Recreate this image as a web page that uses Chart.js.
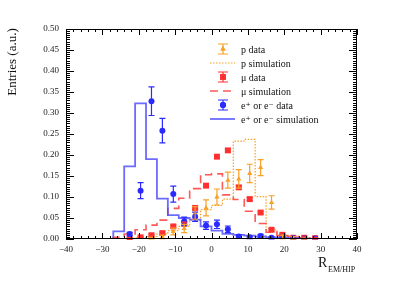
<!DOCTYPE html>
<html>
<head>
<meta charset="utf-8">
<script src="https://cdn.jsdelivr.net/npm/chart.js@4/dist/chart.umd.min.js"></script>
<style>
  html, body { margin: 0; padding: 0; background: #fff; }
  canvas { display: block; }
</style>
</head>
<body>
<canvas id="chart" width="411" height="281"></canvas>
<script>
// Histogram bin edges (width 3) and simulated fractions per bin
const binEdges = [-27, -24, -21, -18, -15, -12, -9, -6, -3, 0, 3, 6, 9, 12, 15, 18, 21, 24, 27, 30, 33];
const eSim  = [0, 0.018, 0.173, 0.323, 0.190, 0.096, 0.057, 0.050, 0.046, 0.030, 0.020, 0.012, 0.010, 0.008, 0.006, 0.004, 0.003, 0.002, 0.001, 0];
const muSim = [0, 0.004, 0.012, 0.022, 0.033, 0.045, 0.073, 0.097, 0.120, 0.153, 0.155, 0.105, 0.094, 0.066, 0.037, 0.016, 0.008, 0.006, 0.003, 0];
const pSim  = [0, 0, 0.001, 0.003, 0.006, 0.012, 0.020, 0.030, 0.045, 0.070, 0.080, 0.095, 0.233, 0.237, 0.101, 0.022, 0.008, 0.004, 0.002, 0];

// Measured points at bin centres
const binCenters = [-22.5, -19.5, -16.5, -13.5, -10.5, -7.5, -4.5, -1.5, 1.5, 4.5, 7.5, 10.5, 13.5, 16.5, 19.5, 22.5, 25.5, 28.5];
const eData  = [0.012, 0.115, 0.328, 0.258, 0.107, 0.042, 0.053, 0.032, 0.035, 0.023, 0.006, 0.004, 0.007, 0.003, 0.006, 0.002, 0.001, 0.001];
const eErr   = [0.004, 0.019, 0.034, 0.029, 0.019, 0.010, 0.011, 0.009, 0.010, 0.008, 0.004, 0.003, 0.004, 0.003, 0.004, 0.002, 0.001, 0.001];
const muData = [0.001, 0.004, 0.009, 0.014, 0.030, 0.037, 0.074, 0.127, 0.196, 0.211, 0.123, 0.095, 0.063, 0.022, 0.010, 0.003, 0.003, 0.002];
const muErr  = [0.002, 0.002, 0.002, 0.003, 0.003, 0.003, 0.004, 0.004, 0.004, 0.004, 0.004, 0.004, 0.003, 0.003, 0.002, 0.002, 0.002, 0.002];
const pData  = [0, 0, 0.002, 0.005, 0.018, 0.025, 0.062, 0.074, 0.100, 0.140, 0.143, 0.156, 0.170, 0.087, 0.005, 0.003, 0.001, 0];
const pErr   = [0, 0, 0.002, 0.004, 0.008, 0.010, 0.015, 0.019, 0.019, 0.019, 0.022, 0.022, 0.019, 0.016, 0.004, 0.003, 0.001, 0];

const xTicks = [-40, -30, -20, -10, 0, 10, 20, 30, 40];
const yTicks = [0, 0.05, 0.10, 0.15, 0.20, 0.25, 0.30, 0.35, 0.40, 0.45, 0.50];

const ORANGE = '#f7a128';
const RED = '#ff3030';
const RED_LINE = 'rgba(255, 60, 60, 0.85)';
const BLUE = '#2b2bff';
const BLUE_LINE = 'rgba(70, 70, 255, 0.8)';
const SERIF = '"Liberation Serif", "DejaVu Serif", serif';

// step histogram: one point per left edge, plus closing point at last edge
function histPoints(values) {
    const pts = values.map((v, i) => ({ x: binEdges[i], y: v }));
    pts.push({ x: binEdges[binEdges.length - 1], y: values[values.length - 1] });
    return pts;
}

function dataPoints(values) {
    return values.map((v, i) => ({ x: binCenters[i], y: v }));
}

// error bars for data sets that carry an errors array
const errorBars = {
    id: 'errorBars',
    afterDatasetsDraw(chart) {
        const ctx = chart.ctx;
        const yScale = chart.scales.y;
        chart.data.datasets.forEach((ds, i) => {
            if (!ds.errors) return;
            const meta = chart.getDatasetMeta(i);
            ctx.save();
            ctx.strokeStyle = ds.borderColor;
            ctx.lineWidth = 1.2;
            meta.data.forEach((pt, j) => {
                const err = ds.errors[j];
                if (!err) return;
                const v = ds.data[j].y;
                const yTop = yScale.getPixelForValue(v + err);
                const yBot = yScale.getPixelForValue(v - err);
                ctx.beginPath();
                ctx.moveTo(pt.x, yTop);
                ctx.lineTo(pt.x, yBot);
                ctx.moveTo(pt.x - 3, yTop);
                ctx.lineTo(pt.x + 3, yTop);
                ctx.moveTo(pt.x - 3, yBot);
                ctx.lineTo(pt.x + 3, yBot);
                ctx.stroke();
            });
            ctx.restore();
        });
    }
};

// ROOT-like frame with inward ticks on all four sides, axis titles and legend
const frameAndLegend = {
    id: 'frameAndLegend',
    afterDraw(chart) {
        const ctx = chart.ctx;
        const a = chart.chartArea;
        const xs = chart.scales.x;
        const ys = chart.scales.y;
        ctx.save();
        ctx.strokeStyle = '#000';
        ctx.lineWidth = 1;
        ctx.strokeRect(a.left + 0.5, a.top + 0.5, a.right - a.left - 1, a.bottom - a.top - 1);

        ctx.beginPath();
        for (let v = -40; v <= 40; v += 2) {
            const px = Math.round(xs.getPixelForValue(v)) + 0.5;
            const len = v % 10 === 0 ? 6 : 3;
            ctx.moveTo(px, a.bottom);
            ctx.lineTo(px, a.bottom - len);
            ctx.moveTo(px, a.top);
            ctx.lineTo(px, a.top + len);
        }
        for (let k = 0; k <= 100; k++) {
            const v = k * 0.005;
            const py = Math.round(ys.getPixelForValue(v)) + 0.5;
            const len = k % 10 === 0 ? 8 : 4;
            ctx.moveTo(a.left, py);
            ctx.lineTo(a.left + len, py);
            ctx.moveTo(a.right, py);
            ctx.lineTo(a.right - len, py);
        }
        ctx.stroke();

        // axis titles
        ctx.fillStyle = '#111';
        ctx.font = '13px ' + SERIF;
        ctx.textBaseline = 'middle';
        ctx.save();
        ctx.translate(13, 62);
        ctx.rotate(-Math.PI / 2);
        ctx.textAlign = 'center';
        ctx.fillText('Entries (a.u.)', 0, 0);
        ctx.restore();

        ctx.textAlign = 'left';
        ctx.textBaseline = 'alphabetic';
        ctx.font = '14px ' + SERIF;
        ctx.fillText('R', 318, 267);
        ctx.font = '8px ' + SERIF;
        ctx.fillText('EM/HIP', 328, 272);

        // legend
        const rows = [49, 63, 77, 91, 105, 119];
        const sx = 223;
        ctx.font = '10px ' + SERIF;
        ctx.textBaseline = 'middle';
        const labels = ['p data', 'p simulation', '\u03bc data', '\u03bc simulation', 'e\u207a or e\u207b data', 'e\u207a or e\u207b simulation'];
        labels.forEach((t, i) => ctx.fillText(t, 241, rows[i] + 1));

        function marker(y, color, style) {
            ctx.strokeStyle = color;
            ctx.fillStyle = color;
            ctx.lineWidth = 1.2;
            ctx.beginPath();
            ctx.moveTo(sx, y - 5); ctx.lineTo(sx, y + 5);
            ctx.moveTo(sx - 5, y - 5); ctx.lineTo(sx + 5, y - 5);
            ctx.moveTo(sx - 5, y + 5); ctx.lineTo(sx + 5, y + 5);
            ctx.stroke();
            Chart.helpers.drawPoint(ctx, { pointStyle: style, radius: style === 'rect' ? 4 : 3, borderWidth: 0 }, sx, y);
            ctx.fill();
        }
        function line(y, color, dash, width) {
            ctx.strokeStyle = color;
            ctx.lineWidth = width;
            ctx.setLineDash(dash);
            ctx.beginPath();
            ctx.moveTo(210, y); ctx.lineTo(235, y);
            ctx.stroke();
            ctx.setLineDash([]);
        }
        marker(rows[0], ORANGE, 'triangle');
        line(rows[1], ORANGE, [1.5, 1.5], 1.2);
        marker(rows[2], RED, 'rect');
        line(rows[3], RED_LINE, [8, 5], 1.6);
        marker(rows[4], BLUE, 'circle');
        line(rows[5], BLUE_LINE, [], 1.8);
        ctx.restore();
    }
};

const histStyle = { showLine: true, stepped: 'after', pointRadius: 0, fill: false, borderWidth: 1.6 };
const markerStyle = { showLine: false, borderWidth: 0 };

new Chart(document.getElementById('chart'), {
    type: 'scatter',
    data: {
        datasets: [
            { label: 'e data', data: dataPoints(eData), errors: eErr, pointStyle: 'circle', pointRadius: 3, backgroundColor: BLUE, borderColor: BLUE, ...markerStyle },
            { label: 'mu data', data: dataPoints(muData), errors: muErr, pointStyle: 'rect', pointRadius: 4.2, backgroundColor: RED, borderColor: RED, ...markerStyle },
            { label: 'p data', data: dataPoints(pData), errors: pErr, pointStyle: 'triangle', pointRadius: 3, backgroundColor: ORANGE, borderColor: ORANGE, ...markerStyle },
            { label: 'e sim', data: histPoints(eSim), borderColor: BLUE_LINE, ...histStyle, borderWidth: 1.8 },
            { label: 'mu sim', data: histPoints(muSim), borderColor: RED_LINE, borderDash: [8, 5], ...histStyle },
            { label: 'p sim', data: histPoints(pSim), borderColor: ORANGE, borderDash: [1.5, 1.5], ...histStyle, borderWidth: 1.2 }
        ]
    },
    options: {
        responsive: false,
        animation: false,
        devicePixelRatio: 1,
        layout: { padding: { top: 29, right: 54, left: 0, bottom: 0 } },
        plugins: { legend: { display: false }, tooltip: { enabled: false } },
        scales: {
            x: {
                type: 'linear', min: -40, max: 40,
                grid: { display: false, drawTicks: false },
                border: { display: false },
                afterFit: s => { s.height = 42; },
                afterBuildTicks: s => { s.ticks = xTicks.map(v => ({ value: v })); },
                ticks: {
                    padding: 5, color: '#222', font: { family: SERIF, size: 9 },
                    callback: v => (v < 0 ? '\u2212' + Math.abs(v) : String(v))
                }
            },
            y: {
                type: 'linear', min: 0, max: 0.5,
                grid: { display: false, drawTicks: false },
                border: { display: false },
                afterFit: s => { s.width = 66; },
                afterBuildTicks: s => { s.ticks = yTicks.map(v => ({ value: v })); },
                ticks: {
                    padding: 7, color: '#222', font: { family: SERIF, size: 9 },
                    callback: v => v.toFixed(2)
                }
            }
        }
    },
    plugins: [errorBars, frameAndLegend]
});
</script>
</body>
</html>
